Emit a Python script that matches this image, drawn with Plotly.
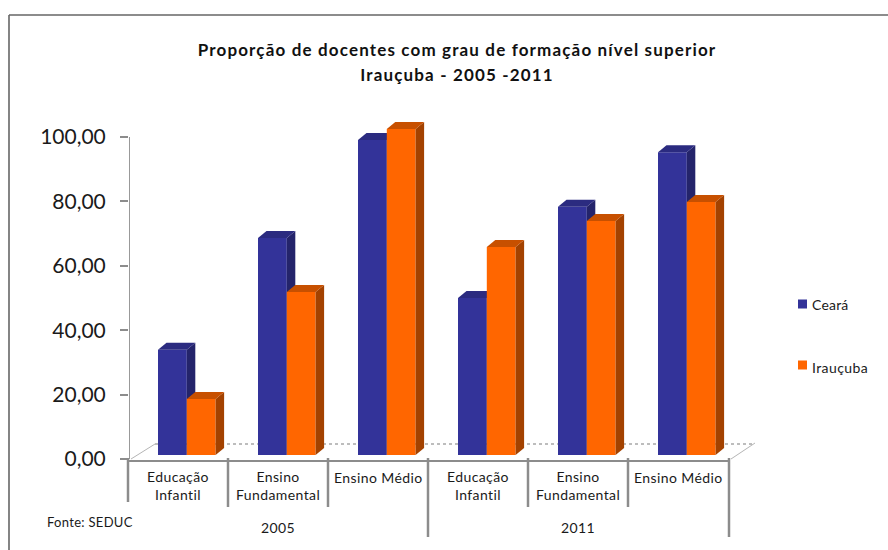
import plotly.graph_objects as go

# ---- data ----
categories = ["Educação<br>Infantil", "Ensino<br>Fundamental", "Ensino Médio",
              "Educação<br>Infantil", "Ensino<br>Fundamental", "Ensino Médio"]
years = ["2005", "2011"]
ceara = [33.9, 68.6, 99.1, 50.0, 78.3, 95.3]
iraucuba = [18.6, 51.9, 102.5, 65.8, 73.9, 79.8]
y_ticks = [0, 20, 40, 60, 80, 100]

# ---- geometry ----
W, H = 888, 550
L, R, T, B = 129, 760, 120, 459     # plot box, pixels
PX_PER_UNIT = 3.22
PX_PER_CAT = 100.0
X_RANGE = [0, (R - L) / PX_PER_CAT]
Y_RANGE = [0, (B - T) / PX_PER_UNIT]
BAR_W = 0.288
BLUE_OFF, ORANGE_OFF = 0.29, 0.578
DX = 8.5 / PX_PER_CAT               # depth of the 3-D box
DY = 7 / PX_PER_UNIT
BASE = 4 / PX_PER_UNIT              # front base sits a little above the zero tick
GRAY = "#8c8c8c"
FONT = "Lato"

def px(x):
    return (x - L) / (R - L)

def py(y):
    return (B - y) / (B - T)

fig = go.Figure()

# value axis line, from the zero tick to the top tick
fig.add_trace(go.Scatter(x=[0, 0], y=[y_ticks[0], y_ticks[-1]], mode="lines", cliponaxis=False,
                         line=dict(color="#999999", width=2), hoverinfo="skip", showlegend=False))

def box_series(name, values, offset, front, side, top, suffix):
    xa, ya = "x" + suffix, "y" + suffix
    xs = [i + offset + BAR_W / 2 for i in range(len(values))]
    fig.add_trace(go.Bar(x=xs, y=[v - BASE for v in values], base=BASE, width=BAR_W, name=name,
                         marker=dict(color=front, line=dict(width=0)),
                         xaxis=xa, yaxis=ya, showlegend=False))
    for i, v in enumerate(values):
        x0, x1 = i + offset, i + offset + BAR_W
        # side face
        fig.add_trace(go.Scatter(x=[x1, x1 + DX, x1 + DX, x1, x1],
                                 y=[BASE, BASE + DY, v + DY, v, BASE],
                                 mode="lines", fill="toself", fillcolor=side,
                                 line=dict(width=0, color=side), hoverinfo="skip",
                                 xaxis=xa, yaxis=ya, showlegend=False))
        # top face
        fig.add_trace(go.Scatter(x=[x0, x0 + DX, x1 + DX, x1, x0],
                                 y=[v, v + DY, v + DY, v, v],
                                 mode="lines", fill="toself", fillcolor=top,
                                 line=dict(width=0, color=top), hoverinfo="skip",
                                 xaxis=xa, yaxis=ya, showlegend=False))

box_series("Ceará", ceara, BLUE_OFF, "#333399", "#24246b", "#2b2b80", "")
box_series("Irauçuba", iraucuba, ORANGE_OFF, "#FF6600", "#A34200", "#C75000", "2")

shapes = []

def line(x0, y0, x1, y1, color=GRAY, width=2, dash=None, layer="above"):
    shapes.append(dict(type="line", xref="paper", yref="paper", layer=layer,
                       x0=px(x0), y0=py(y0), x1=px(x1), y1=py(y1),
                       line=dict(color=color, width=width, dash=dash)))

# outer frame (open on the right and at the bottom)
line(9, 15, 888, 15, "#666666", 1.6)
line(9, 15, 9, 550, "#666666", 1.6)
# floor
line(155, 444, 755, 444, "#bdbdbd", 2, "dot", "below")
line(131, 459, 155, 444, "#b5b5b5", 1, None, "below")
line(731, 459, 755, 443, "#b5b5b5", 1, None, "below")
# category axis and separators
line(128, 461, 729, 461)
for x, yb in [(128, 502), (228, 507), (328, 507), (428, 537), (528, 507), (628, 507), (729, 537)]:
    line(x, 458, x, yb, GRAY, 2.5)
# legend swatches
for yc, col in [(304, "#333399"), (365, "#FF6600")]:
    shapes.append(dict(type="rect", xref="paper", yref="paper", x0=px(798), x1=px(807),
                       y0=py(yc + 4.5), y1=py(yc - 4.5), fillcolor=col, line=dict(width=0)))

annotations = []

def text(s, x, y, size=13, anchor="center", lh=None, ls=0.0):
    body = f'<span style="font-size:{size}px;letter-spacing:{ls}px">{s}</span>'
    annotations.append(dict(text=body, xref="paper", yref="paper", x=px(x), y=py(y),
                            xanchor=anchor, yanchor="middle", showarrow=False,
                            align="center", font=dict(family=FONT, size=lh or size, color="#1a1a1a")))

for i, c in enumerate(categories):
    yc = 486 if "<br>" in c else 477
    text(c, 178 + 100 * i, yc, 14, lh=14.2, ls=0.4)
for i, yr in enumerate(years):
    text(yr, 278 + 300 * i, 527, 14, ls=0.4)
text("Fonte: SEDUC", 45, 522, 13, "left", ls=0.3)
text("Ceará", 810, 304, 14, "left", ls=0.2)
text("Irauçuba", 810, 367, 14, "left", ls=0.4)

title_text = ('<span style="font-size:17px;letter-spacing:1.15px"><b>Proporção de docentes com grau de formação nível superior'
              '<br>Irauçuba - 2005 -2011</b></span>')

axis_hidden = dict(range=X_RANGE, showgrid=False, zeroline=False, showticklabels=False,
                   ticks="", showline=False, fixedrange=True)
fig.update_layout(
    width=W, height=H, autosize=False,
    margin=dict(l=L, r=W - R, t=T, b=H - B, pad=0),
    paper_bgcolor="white", plot_bgcolor="white",
    barmode="overlay", separators=",.", showlegend=False,
    font=dict(family=FONT, color="#1a1a1a"),
    title=dict(text=title_text, font=dict(family=FONT, size=19.2, color="#111111"),
               x=(457) / W, xanchor="center", y=1 - 56 / H, yanchor="middle"),
    xaxis=dict(**axis_hidden),
    yaxis=dict(range=Y_RANGE, tickvals=y_ticks, tickformat=".2f", ticks="outside", ticklen=8,
               tickwidth=1.5, tickcolor=GRAY, showgrid=False, zeroline=False, showline=False,
               ticklabelstandoff=10,
               tickfont=dict(family=FONT, size=21, color="#1a1a1a")),
    xaxis2=dict(**axis_hidden, overlaying="x", matches="x"),
    yaxis2=dict(range=Y_RANGE, overlaying="y", showgrid=False, zeroline=False, showticklabels=False,
                ticks="", showline=False),
    shapes=shapes, annotations=annotations,
)
fig.write_html("out.html", config={"displayModeBar": False},
               post_script="document.body.style.margin='0';")
